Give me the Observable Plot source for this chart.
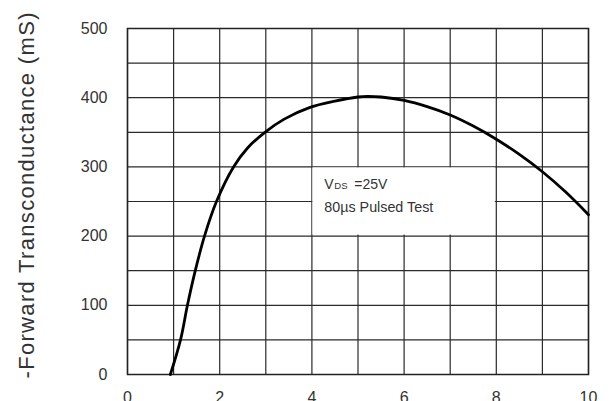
<!DOCTYPE html>
<html>
<head>
<meta charset="utf-8">
<script src="https://cdn.jsdelivr.net/npm/d3@7"></script>
<script src="https://cdn.jsdelivr.net/npm/@observablehq/plot@0.6"></script>
<style>
  html, body { margin: 0; padding: 0; background: #fff; }
  #chart { width: 611px; height: 401px; overflow: hidden; }
</style>
</head>
<body>
<div id="chart"></div>
<script>
// Gate voltage (V) and forward transconductance (mS)
const vgs = [0.93, 1.15, 1.30, 1.47, 1.67, 1.93, 2.3, 2.6, 2.98, 3.4, 3.96, 4.5, 5.0, 5.2, 5.5, 6.0, 6.5, 7.0, 7.5, 8.0, 8.5, 9.0, 9.5, 10.0];
const gfs = [0, 50, 100, 150, 200, 250, 300, 327, 350, 369, 386, 395, 401, 402, 401, 396, 387, 375, 359, 340, 318, 293, 264, 231];

const xTicks = [0, 2, 4, 6, 8, 10];
const yTicks = [0, 100, 200, 300, 400, 500];
const xGrid = [0, 1, 2, 3, 4, 5, 6, 7, 8, 9, 10];
const yGrid = [0, 50, 100, 150, 200, 250, 300, 350, 400, 450, 500];

const yLabel = "-Forward Transconductance (mS)";
const noteLine1 = ["V", "DS", "=25V"];
const noteLine2 = "80\u00b5s Pulsed Test";

const data = vgs.map((v, i) => ({v, g: gfs[i]}));
const ink = "#333";
const font = "Liberation Sans, Arial, sans-serif";

const chart = Plot.plot({
  width: 611,
  height: 401,
  marginLeft: 127,
  marginRight: 23,
  marginTop: 28,
  marginBottom: 27,
  x: {domain: [0, 10]},
  y: {domain: [0, 500]},
  style: {fontFamily: font, background: "white", color: ink, overflow: "visible"},
  marks: [
    Plot.ruleX(xGrid, {stroke: "#2a2a2a", strokeWidth: 1.2}),
    Plot.ruleY(yGrid, {stroke: "#2a2a2a", strokeWidth: 1.2}),
    Plot.rect([null], {x1: 4, x2: 8, y1: 200, y2: 300, fill: "white",
      insetLeft: 1, insetRight: 1, insetTop: 1, insetBottom: 1}),
    Plot.frame({stroke: "#222", strokeWidth: 1.5}),
    Plot.line(data, {x: "v", y: "g", stroke: "#000", strokeWidth: 2.8, curve: "catmull-rom"}),
    Plot.text([noteLine1[0]], {x: 4.27, y: 274, text: d => d, textAnchor: "start", fontSize: 14, fill: ink}),
    Plot.text([noteLine1[1]], {x: 4.27, y: 273, text: d => d, textAnchor: "start", fontSize: 9.5, dx: 10, fill: ink}),
    Plot.text([noteLine1[2]], {x: 4.27, y: 274, text: d => d, textAnchor: "start", fontSize: 14, dx: 30, fill: ink}),
    Plot.text([noteLine2], {x: 4.27, y: 241, text: d => d, textAnchor: "start", fontSize: 14.3, fill: ink}),
    Plot.axisX(xTicks, {tickSize: 0, tickPadding: 17, fontSize: 16, label: null, fill: ink}),
    Plot.axisY(yTicks, {tickSize: 0, tickPadding: 20, fontSize: 16, label: null, fill: ink}),
    Plot.text([yLabel], {frameAnchor: "left", dx: -101, dy: -6, rotate: -90, textAnchor: "middle", text: d => d, fontSize: 22, fill: ink, className: "ylabel"})
  ]
});
document.getElementById("chart").appendChild(chart);
// stretch the axis title to the reference's length
d3.select(chart).selectAll(".ylabel text").attr("textLength", 366).attr("lengthAdjust", "spacing");
</script>
</body>
</html>
